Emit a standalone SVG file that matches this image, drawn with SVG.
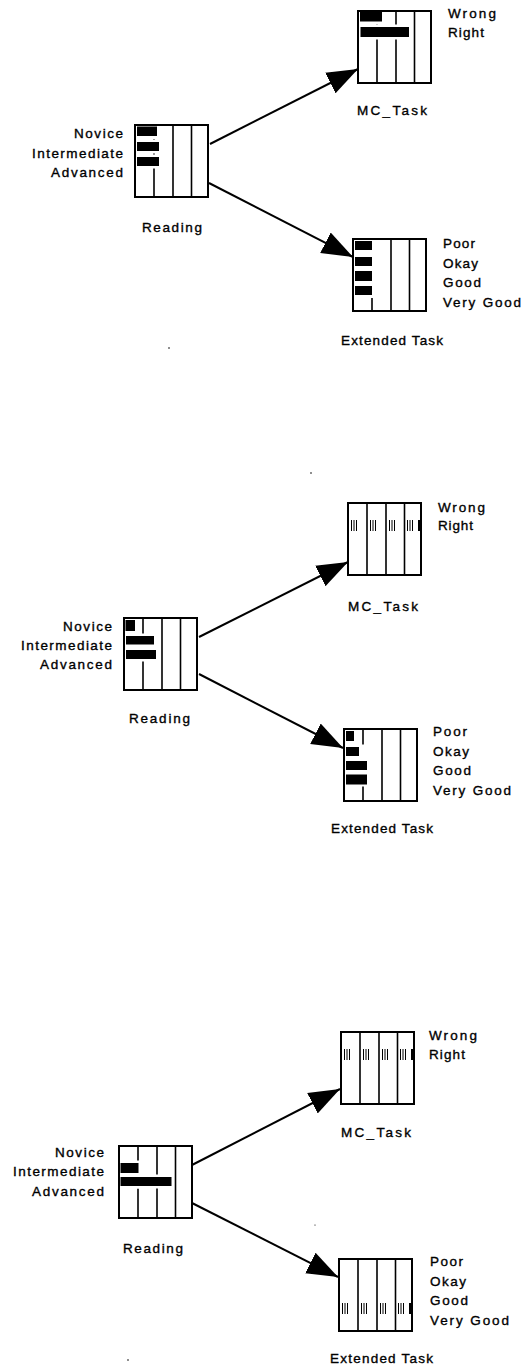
<svg xmlns="http://www.w3.org/2000/svg" width="522" height="1368" viewBox="0 0 522 1368">
<style>
.box{fill:#fff;stroke:#000;stroke-width:2}
.col{stroke:#000;stroke-width:1.6}
.bar{fill:#000}
.halo{fill:#fff}
.tick{stroke:#000;stroke-width:1}
.t{font-family:"Liberation Sans",Arial,Helvetica,sans-serif;font-size:13.5px;fill:#000;stroke:#000;stroke-width:0.35}
.e{text-anchor:end}
.edge{stroke:#000;stroke-width:2;fill:none;marker-end:url(#ah)}
</style>
<defs>
<marker id="ah" markerUnits="userSpaceOnUse" markerWidth="32" markerHeight="24" refX="31" refY="12" orient="auto">
<path d="M0,0.5 L31,12 L0,23.5 z" fill="#000"/>
</marker>
<g id="frame">
<rect class="box" x="0" y="0" width="73" height="72"/>
<line class="col" x1="19" y1="0" x2="19" y2="72"/>
<line class="col" x1="38" y1="0" x2="38" y2="72"/>
<line class="col" x1="56.5" y1="0" x2="56.5" y2="72"/>
</g>
<g id="ticks">
<path class="tick" d="M3.5,0V11M6,0V11M8.5,0V11M22.5,0V11M25,0V11M27.5,0V11M41.5,0V11M44,0V11M46.5,0V11M59.5,0V11M62,0V11M64.5,0V11"/>
<rect x="70" y="0" width="2" height="11" fill="#000"/>
</g>
</defs>

<g id="connectors">
<line class="edge" x1="210" y1="144" x2="358" y2="69"/>
<line class="edge" x1="209" y1="183" x2="353" y2="257"/>
<line class="edge" x1="199" y1="637" x2="348" y2="562"/>
<line class="edge" x1="199" y1="674" x2="343" y2="748"/>
<line class="edge" x1="192" y1="1165" x2="340" y2="1089"/>
<line class="edge" x1="192" y1="1203" x2="338" y2="1277"/>
</g>

<!-- Panel 1 -->
<g id="p1-reading" transform="translate(135,125)">
<use href="#frame"/>
<rect class="halo" x="1" y="1" width="23" height="13"/>
<rect class="halo" x="1" y="14.5" width="25" height="14"/>
<rect class="halo" x="1" y="29.5" width="25" height="14"/>
<rect class="bar" x="2" y="1.5" width="20" height="9.5"/>
<rect class="bar" x="2" y="17" width="22" height="9"/>
<rect class="bar" x="2" y="32" width="22" height="9"/>
<text class="t e" x="-12" y="13" textLength="49">Novice</text>
<text class="t e" x="-12" y="33" textLength="91">Intermediate</text>
<text class="t e" x="-12" y="52" textLength="72">Advanced</text>
<text class="t" x="7" y="107" textLength="60">Reading</text>
</g>
<g id="p1-mc" transform="translate(358,11)">
<use href="#frame"/>
<rect class="halo" x="1" y="1" width="25" height="12.5"/>
<rect class="halo" x="1" y="13.5" width="52" height="15"/>
<rect class="bar" x="2" y="1" width="22" height="9.5"/>
<rect class="bar" x="2.5" y="16" width="48.5" height="10"/>
<text class="t" x="90" y="7" textLength="48">Wrong</text>
<text class="t" x="90" y="26" textLength="36">Right</text>
<text class="t" x="-1" y="104" textLength="70">MC_Task</text>
</g>
<g id="p1-ext" transform="translate(353,239)">
<use href="#frame"/>
<rect class="halo" x="1" y="1" width="20" height="58"/>
<rect class="bar" x="2" y="2" width="17" height="9"/>
<rect class="bar" x="2" y="18" width="17" height="9"/>
<rect class="bar" x="2" y="32" width="17" height="10"/>
<rect class="bar" x="2" y="47" width="17" height="9"/>
<text class="t" x="90" y="9" textLength="32">Poor</text>
<text class="t" x="90" y="29" textLength="35">Okay</text>
<text class="t" x="90" y="48" textLength="38">Good</text>
<text class="t" x="90" y="68" textLength="78">Very Good</text>
<text class="t" x="-12" y="106" textLength="102">Extended Task</text>
</g>

<!-- Panel 2 -->
<g id="p2-reading" transform="translate(124,618)">
<use href="#frame"/>
<rect class="halo" x="1" y="1" width="12" height="14"/>
<rect class="halo" x="1" y="15.5" width="32" height="28"/>
<rect class="bar" x="1.5" y="2" width="9.5" height="11"/>
<rect class="bar" x="2" y="18" width="28" height="8.5"/>
<rect class="bar" x="2" y="32" width="30" height="9"/>
<text class="t e" x="-12" y="13" textLength="49">Novice</text>
<text class="t e" x="-12" y="32" textLength="91">Intermediate</text>
<text class="t e" x="-12" y="51" textLength="72">Advanced</text>
<text class="t" x="5" y="105" textLength="61">Reading</text>
</g>
<g id="p2-mc" transform="translate(348,503)">
<use href="#frame"/>
<use href="#ticks" y="17"/>
<text class="t" x="90" y="9" textLength="47">Wrong</text>
<text class="t" x="90" y="27" textLength="35">Right</text>
<text class="t" x="0" y="108" textLength="70">MC_Task</text>
</g>
<g id="p2-ext" transform="translate(344,729)">
<use href="#frame"/>
<rect class="halo" x="1" y="1" width="11" height="14"/>
<rect class="halo" x="1" y="15.5" width="24" height="42"/>
<rect class="bar" x="2" y="2" width="8" height="10"/>
<rect class="bar" x="2" y="18" width="13" height="9"/>
<rect class="bar" x="2" y="32" width="21" height="9"/>
<rect class="bar" x="2" y="45.5" width="21" height="10"/>
<text class="t" x="89" y="7" textLength="34">Poor</text>
<text class="t" x="89" y="27" textLength="36">Okay</text>
<text class="t" x="89" y="46" textLength="38">Good</text>
<text class="t" x="89" y="66" textLength="78">Very Good</text>
<text class="t" x="-13" y="104" textLength="102">Extended Task</text>
</g>

<!-- Panel 3 -->
<g id="p3-reading" transform="translate(119,1146)">
<use href="#frame"/>
<rect class="halo" x="1" y="14.5" width="21" height="28"/>
<rect class="halo" x="1" y="28.5" width="54" height="14"/>
<rect class="bar" x="1.5" y="17" width="18" height="10"/>
<rect class="bar" x="1.5" y="31" width="51" height="9"/>
<text class="t e" x="-15" y="11" textLength="49">Novice</text>
<text class="t e" x="-15" y="30" textLength="91">Intermediate</text>
<text class="t e" x="-15" y="50" textLength="72">Advanced</text>
<text class="t" x="4" y="107" textLength="60">Reading</text>
</g>
<g id="p3-mc" transform="translate(341,1032)">
<use href="#frame"/>
<use href="#ticks" y="17"/>
<text class="t" x="88" y="8" textLength="48">Wrong</text>
<text class="t" x="88" y="27" textLength="36">Right</text>
<text class="t" x="0" y="105" textLength="70">MC_Task</text>
</g>
<g id="p3-ext" transform="translate(339,1259)">
<use href="#frame"/>
<use href="#ticks" y="44"/>
<text class="t" x="91" y="7" textLength="33">Poor</text>
<text class="t" x="91" y="27" textLength="36">Okay</text>
<text class="t" x="91" y="46" textLength="38">Good</text>
<text class="t" x="91" y="66" textLength="79">Very Good</text>
<text class="t" x="-9" y="104" textLength="103">Extended Task</text>
</g>

<g id="specks" fill="#000">
<circle cx="169" cy="348" r="0.8"/>
<circle cx="311" cy="473" r="0.8"/>
<circle cx="315" cy="1225" r="0.6"/>
<circle cx="128" cy="1360" r="0.8"/>
</g>
</svg>
